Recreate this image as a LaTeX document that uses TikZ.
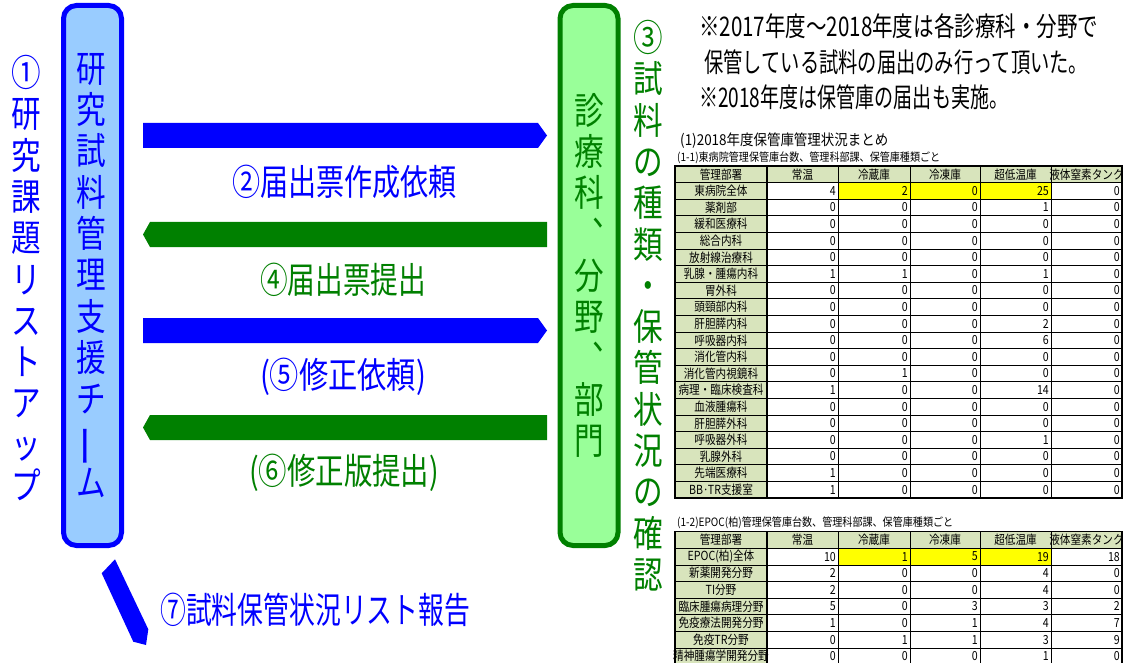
\documentclass[tikz,border=0pt]{standalone}
\usepackage{fontspec}
\usepackage{graphicx}
\newfontfamily\jp{Noto Sans CJK JP}
\newfontfamily\jpv[FakeStretch=0.8]{Noto Sans CJK JP}
\newfontfamily\jpt[FakeStretch=0.85]{Noto Sans CJK JP}
\newcommand\fitw[2]{\resizebox{#1}{\height}{#2}}
\newcommand\vbar{\rotatebox[origin=c]{90}{\scalebox{1.15}[1]{\jp ー}}}
\definecolor{cblue}{RGB}{0,0,255}
\definecolor{lblue}{RGB}{153,204,255}
\definecolor{cgreen}{RGB}{0,128,0}
\definecolor{lgreen}{RGB}{153,255,153}
\definecolor{hdrg}{RGB}{216,228,188}
\definecolor{cyel}{RGB}{255,255,0}
\begin{document}
\begin{tikzpicture}[x=1pt,y=-1pt,
  panel/.style={line width=5pt, rounded corners=13pt, minimum width=58pt, minimum height=540pt, inner sep=0pt},
  vtext/.style={inner sep=0pt, align=center, anchor=north, font={\jpv\fontsize{37}{41.3}\selectfont}},
  htext/.style={inner sep=0pt, font={\jp\fontsize{36}{40}\selectfont}},
  note/.style={inner sep=0pt, anchor=west, font={\jp\fontsize{27}{30}\selectfont}},
  ttitle/.style={inner sep=0pt, anchor=west},
  tcell/.style={inner sep=0pt, font={\jpt\fontsize{12.5}{13}\selectfont}},
  tnum/.style={tcell, anchor=east},
  grid/.style={line width=0.7pt, black},
  frame/.style={line width=1.2pt, black},
  ]
\useasboundingbox[fill=white] (0,0) rectangle (1127,663);

% panels
\node (team) [panel, draw=cblue, fill=lblue] at (92.5,275.5) {};
\node (dept) [panel, draw=cgreen, fill=lgreen] at (589,275.5) {};

% vertical texts
\node (teamtxt) [vtext, text=cblue] at (91,53) {研\\究\\試\\料\\管\\理\\支\\援\\チ\\\vbar\\ム};
\node (depttxt) [vtext, text=cgreen] at (589,93) {診\\療\\科\\︑\\分\\野\\︑\\部\\門};
\node (step1) [vtext, text=cblue] at (26,55) {①\\研\\究\\課\\題\\リ\\ス\\ト\\ア\\ッ\\プ};
\node (step3) [vtext, text=cgreen] at (648,20) {③\\試\\料\\の\\種\\類\\・\\保\\管\\状\\況\\の\\確\\認};

% block arrows
\fill[cblue] (143,123) -- (538,123) -- (547,135.5) -- (538,148) -- (143,148) -- cycle;
\fill[cgreen] (547,222) -- (150,222) -- (143,234.5) -- (150,247) -- (547,247) -- cycle;
\fill[cblue] (143,318) -- (538,318) -- (547,330.5) -- (538,343) -- (143,343) -- cycle;
\fill[cgreen] (547,415) -- (150,415) -- (143,427.5) -- (150,440) -- (547,440) -- cycle;
\fill[cblue] (101.7,573.3) -- (115,559.3) -- (148.3,629.3) -- (146,645) -- (133.3,641.7) -- cycle;

% arrow labels
\node (req) [htext, text=cblue] at (344.5,182) {\fitw{225pt}{②届出票作成依頼}};
\node (sub) [htext, text=cgreen] at (343,280) {\fitw{166pt}{④届出票提出}};
\node (fix) [htext, text=cblue] at (343,377) {\fitw{166pt}{(⑤修正依頼)}};
\node (fixsub) [htext, text=cgreen] at (344,473) {\fitw{190pt}{(⑥修正版提出)}};
\node (report) [htext, text=cblue, anchor=west] at (160,610) {\fitw{310pt}{⑦試料保管状況リスト報告}};

% notes
\node (note1) [note] at (699,26) {\fitw{399pt}{※2017年度～2018年度は各診療科・分野で}};
\node (note2) [note] at (704,62) {\fitw{384pt}{保管している試料の届出のみ行って頂いた。}};
\node (note3) [note] at (699,97) {\fitw{309pt}{※2018年度は保管庫の届出も実施。}};

% table titles
\node (t1title) [ttitle, font={\jp\fontsize{15}{16}\selectfont}] at (680,141) {\fitw{208pt}{(1)2018年度保管庫管理状況まとめ}};
\node (t1sub) [ttitle, font={\jp\fontsize{11.5}{12}\selectfont}] at (677,158) {\fitw{263pt}{(1-1)東病院管理保管庫台数、管理科部課、保管庫種類ごと}};
\node (t2sub) [ttitle, font={\jp\fontsize{11.5}{12}\selectfont}] at (677,523) {\fitw{276pt}{(1-2)EPOC(柏)管理保管庫台数、管理科部課、保管庫種類ごと}};

% table 1
\begin{scope}[shift={(0,166)}]
\fill[hdrg] (675,0) rectangle (1122,16.6);
\fill[hdrg] (675,16.6) rectangle (767,332);
\fill[cyel] (838,16.6) rectangle (1051,33.2);
\foreach \ri in {0,...,20} \draw[grid] (675,16.6*\ri) -- (1122,16.6*\ri);
\foreach \xx in {767,838,910,980,1051} \draw[grid] (\xx,0) -- (\xx,332);
\draw[frame] (675,0) rectangle (1122,332);
\draw[frame] (767,0) -- (767,332);
\foreach \hh/\cx [count=\j] in {管理部署/721,常温/802.5,冷蔵庫/874,冷凍庫/945,超低温庫/1015.5,液体窒素タンク/1086.5}
  \node (t1h\j) [tcell] at (\cx,8.3) {\hh};
\foreach \lab/\va/\vb/\vc/\vd/\ve [count=\ri] in {
  東病院全体/4/2/0/25/0, 薬剤部/0/0/0/1/0, 緩和医療科/0/0/0/0/0, 総合内科/0/0/0/0/0,
  放射線治療科/0/0/0/0/0, 乳腺・腫瘍内科/1/1/0/1/0, 胃外科/0/0/0/0/0, 頭頸部内科/0/0/0/0/0,
  肝胆膵内科/0/0/0/2/0, 呼吸器内科/0/0/0/6/0, 消化管内科/0/0/0/0/0, 消化管内視鏡科/0/1/0/0/0,
  病理・臨床検査科/1/0/0/14/0, 血液腫瘍科/0/0/0/0/0, 肝胆膵外科/0/0/0/0/0, 呼吸器外科/0/0/0/1/0,
  乳腺外科/0/0/0/0/0, 先端医療科/1/0/0/0/0, BB·TR支援室/1/0/0/0/0}{
  \node (t1l\ri) [tcell] at (721,16.6*\ri+8.3) {\lab};
  \node (t1a\ri) [tnum] at (836,16.6*\ri+8.3) {\va};
  \node (t1b\ri) [tnum] at (908,16.6*\ri+8.3) {\vb};
  \node (t1c\ri) [tnum] at (978,16.6*\ri+8.3) {\vc};
  \node (t1d\ri) [tnum] at (1049,16.6*\ri+8.3) {\vd};
  \node (t1e\ri) [tnum] at (1120,16.6*\ri+8.3) {\ve};
}
\end{scope}

% table 2
\begin{scope}[shift={(0,531.7)}]
\fill[hdrg] (675,0) rectangle (1122,16.6);
\fill[hdrg] (675,16.6) rectangle (767,132.8);
\fill[cyel] (838,16.6) rectangle (1051,33.2);
\foreach \ri in {0,...,8} \draw[grid] (675,16.6*\ri) -- (1122,16.6*\ri);
\foreach \xx in {767,838,910,980,1051} \draw[grid] (\xx,0) -- (\xx,132.8);
\draw[frame] (675,132.8) -- (675,0) -- (1122,0) -- (1122,132.8);
\draw[frame] (767,0) -- (767,132.8);
\draw[frame] (675,66.4) -- (1122,66.4);
\foreach \hh/\cx [count=\j] in {管理部署/721,常温/802.5,冷蔵庫/874,冷凍庫/945,超低温庫/1015.5,液体窒素タンク/1086.5}
  \node (t2h\j) [tcell] at (\cx,8.3) {\hh};
\foreach \lab/\va/\vb/\vc/\vd/\ve [count=\ri] in {
  EPOC(柏)全体/10/1/5/19/18, 新薬開発分野/2/0/0/4/0, TI分野/2/0/0/4/0,
  臨床腫瘍病理分野/5/0/3/3/2, 免疫療法開発分野/1/0/1/4/7, 免疫TR分野/0/1/1/3/9,
  精神腫瘍学開発分野/0/0/0/1/0}{
  \node (t2l\ri) [tcell] at (721,16.6*\ri+8.3) {\lab};
  \node (t2a\ri) [tnum] at (836,16.6*\ri+8.3) {\va};
  \node (t2b\ri) [tnum] at (908,16.6*\ri+8.3) {\vb};
  \node (t2c\ri) [tnum] at (978,16.6*\ri+8.3) {\vc};
  \node (t2d\ri) [tnum] at (1049,16.6*\ri+8.3) {\vd};
  \node (t2e\ri) [tnum] at (1120,16.6*\ri+8.3) {\ve};
}
\end{scope}
\end{tikzpicture}
\end{document}
